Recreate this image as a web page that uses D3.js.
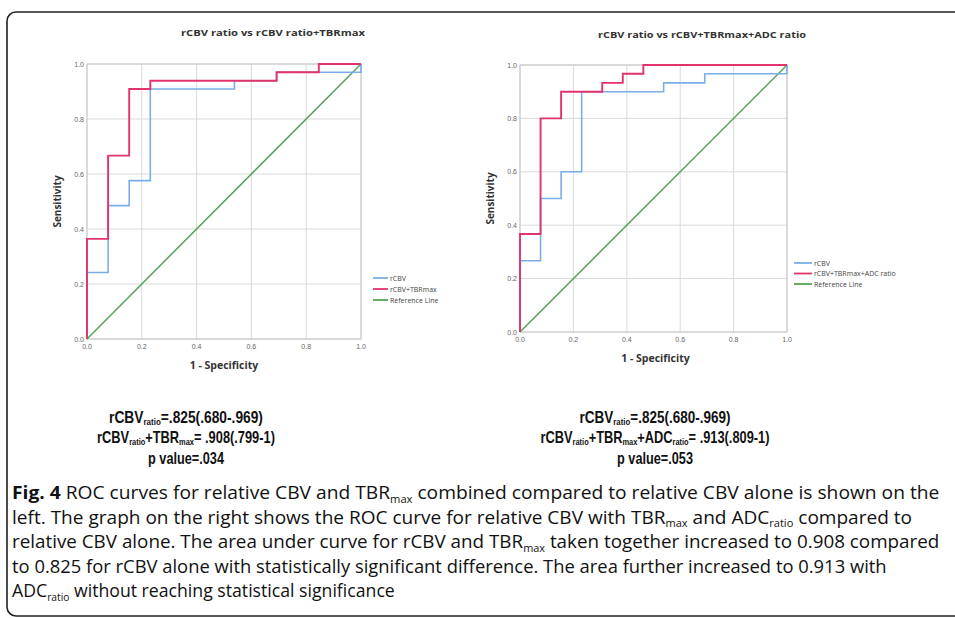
<!DOCTYPE html>
<html>
<head>
<meta charset="utf-8">
<script src="https://cdn.jsdelivr.net/npm/d3@7"></script>
<style>
  body { margin: 0; background: #fff; }
  svg { display: block; }
</style>
</head>
<body>
<svg id="fig" width="955" height="618"></svg>
<script>
// axis ticks shared by both panels
const ticks = [0, 0.2, 0.4, 0.6, 0.8, 1.0];

// left panel: rCBV vs rCBV+TBRmax (operating points, 1-specificity / sensitivity)
const leftBlueFpr = [0, 0, 0.077, 0.154, 0.231, 0.538, 0.692, 1];
const leftBlueTpr = [0, 0.242, 0.485, 0.576, 0.909, 0.939, 0.970, 1];
const leftRedFpr  = [0, 0, 0.077, 0.154, 0.231, 0.692, 0.846, 1];
const leftRedTpr  = [0, 0.364, 0.667, 0.909, 0.939, 0.970, 1, 1];

// right panel: rCBV vs rCBV+TBRmax+ADC ratio
const rightBlueFpr = [0, 0, 0.077, 0.154, 0.231, 0.538, 0.692, 1];
const rightBlueTpr = [0, 0.267, 0.5, 0.6, 0.9, 0.933, 0.967, 1];
const rightRedFpr  = [0, 0, 0.077, 0.154, 0.308, 0.385, 0.462, 1];
const rightRedTpr  = [0, 0.367, 0.8, 0.9, 0.933, 0.967, 1, 1];

const refLine = [0, 1];

const leftLegend  = ['rCBV', 'rCBV+TBRmax', 'Reference Line'];
const rightLegend = ['rCBV', 'rCBV+TBRmax+ADC ratio', 'Reference Line'];

const BLUE = '#7aaee8', RED = '#e2336b', GREEN = '#56a259';

const svg = d3.select('#fig');

// figure frame
svg.append('rect')
   .attr('x', 7).attr('y', 12)
   .attr('width', 1000).attr('height', 604)
   .attr('rx', 9)
   .attr('fill', 'none')
   .attr('stroke', '#222')
   .attr('stroke-width', 1.6);

function drawPanel(p){
  let x = d3.scaleLinear().domain([0, 1]).range([p.left, p.right]);
  let y = d3.scaleLinear().domain([0, 1]).range([p.bottom, p.top]);
  let g = svg.append('g');

  // grid
  ticks.forEach(function(t){
    g.append('line')
     .attr('x1', x(t)).attr('x2', x(t))
     .attr('y1', y(0)).attr('y2', y(1))
     .attr('stroke', '#d9d9d9').attr('stroke-width', 1);
    g.append('line')
     .attr('x1', x(0)).attr('x2', x(1))
     .attr('y1', y(t)).attr('y2', y(t))
     .attr('stroke', '#d9d9d9').attr('stroke-width', 1);
  });
  g.append('rect')
   .attr('x', x(0)).attr('y', y(1))
   .attr('width', x(1)-x(0)).attr('height', y(0)-y(1))
   .attr('fill', 'none').attr('stroke', '#c8c8c8');

  // tick labels
  g.selectAll('.xt').data(ticks).enter().append('text')
   .attr('x', function(d){ return x(d); })
   .attr('y', y(0) + 10)
   .attr('text-anchor', 'middle')
   .attr('font-family', 'Liberation Sans, Arial, sans-serif')
   .attr('font-size', '7px').attr('fill', '#666')
   .text(function(d){ return d.toFixed(1); });
  g.selectAll('.yt').data(ticks).enter().append('text')
   .attr('x', x(0) - 3)
   .attr('y', function(d){ return y(d) + 2.5; })
   .attr('text-anchor', 'end')
   .attr('font-family', 'Liberation Sans, Arial, sans-serif')
   .attr('font-size', '7px').attr('fill', '#666')
   .text(function(d){ return d.toFixed(1); });

  // curves
  let step = d3.line()
    .x(function(d){ return x(d[0]); })
    .y(function(d){ return y(d[1]); })
    .curve(d3.curveStepAfter);
  let straight = d3.line()
    .x(function(d){ return x(d[0]); })
    .y(function(d){ return y(d[1]); });

  g.append('path')
   .attr('d', straight(d3.zip(refLine, refLine)))
   .attr('fill', 'none').attr('stroke', GREEN).attr('stroke-width', 1.5);
  g.append('path')
   .attr('d', step(d3.zip(p.blueFpr, p.blueTpr)))
   .attr('fill', 'none').attr('stroke', BLUE).attr('stroke-width', 1.6);
  g.append('path')
   .attr('d', step(d3.zip(p.redFpr, p.redTpr)))
   .attr('fill', 'none').attr('stroke', RED).attr('stroke-width', 1.9);

  // titles
  g.append('text')
   .attr('x', p.titleX).attr('y', p.titleY)
   .attr('text-anchor', 'middle')
   .attr('font-family', 'Open Sans, sans-serif')
   .attr('font-weight', 'bold')
   .attr('font-size', '9px').attr('fill', '#333')
   .attr('textLength', p.titleW).attr('lengthAdjust', 'spacingAndGlyphs')
   .text(p.title);
  g.append('text')
   .attr('x', (x(0)+x(1))/2 + p.xlabDx).attr('y', y(0) + 30)
   .attr('text-anchor', 'middle')
   .attr('font-family', 'Open Sans, sans-serif')
   .attr('font-weight', 'bold')
   .attr('font-size', '10.5px').attr('fill', '#333')
   .text('1 - Specificity');
  g.append('text')
   .attr('transform', 'translate(' + p.ylabX + ',' + (y(0)+y(1))/2 + ') rotate(-90)')
   .attr('text-anchor', 'middle')
   .attr('font-family', 'Open Sans, sans-serif')
   .attr('font-weight', 'bold')
   .attr('font-size', '10px').attr('fill', '#333')
   .text('Sensitivity');

  // legend
  let colors = [BLUE, RED, GREEN];
  p.legend.forEach(function(name, i){
    let ly = p.legY + i*p.legGap;
    g.append('line')
     .attr('x1', p.legX).attr('x2', p.legX + p.legLen)
     .attr('y1', ly).attr('y2', ly)
     .attr('stroke', colors[i]).attr('stroke-width', 1.8);
    g.append('text')
     .attr('x', p.legX + p.legLen + 2).attr('y', ly + 2.5)
     .attr('font-family', 'Open Sans, sans-serif')
     .attr('font-size', '7px').attr('fill', '#444')
     .text(name);
  });
}

drawPanel({
  left: 87, right: 361, top: 64, bottom: 339,
  blueFpr: leftBlueFpr, blueTpr: leftBlueTpr,
  redFpr: leftRedFpr, redTpr: leftRedTpr,
  title: 'rCBV ratio vs rCBV ratio+TBRmax', titleX: 273, titleY: 36, titleW: 184,
  xlabDx: 0, ylabX: 61,
  legend: leftLegend, legX: 373, legY: 278, legGap: 11, legLen: 15
});
drawPanel({
  left: 520, right: 787, top: 65, bottom: 332,
  blueFpr: rightBlueFpr, blueTpr: rightBlueTpr,
  redFpr: rightRedFpr, redTpr: rightRedTpr,
  title: 'rCBV ratio vs rCBV+TBRmax+ADC ratio', titleX: 702, titleY: 38, titleW: 208,
  xlabDx: 2, ylabX: 494,
  legend: rightLegend, legX: 794, legY: 263, legGap: 10.5, legLen: 18
});

// AUC statistics, each line is a list of [text, isSubscript, isBold]
const leftStats = [
  [['rCBV', 0], ['ratio', 1], ['=.825(.680-.969)', 0]],
  [['rCBV', 0], ['ratio', 1], ['+TBR', 0], ['max', 1], ['= .908(.799-1)', 0]],
  [['p value=.034', 0]]
];
const rightStats = [
  [['rCBV', 0], ['ratio', 1], ['=.825(.680-.969)', 0]],
  [['rCBV', 0], ['ratio', 1], ['+TBR', 0], ['max', 1], ['+ADC', 0], ['ratio', 1], ['= .913(.809-1)', 0]],
  [['p value=.053', 0]]
];
const leftStatW  = [154, 178, 76];
const rightStatW = [151, 229, 76];

// one line of text with subscripts, squeezed horizontally to a target width
function richLine(parent, parts, x, y, size, anchor, weight, family, width, subShift){
  let t = parent.append('text')
    .attr('transform', 'translate(' + x + ',' + y + ')')
    .attr('text-anchor', anchor)
    .attr('font-family', family)
    .attr('font-weight', weight)
    .attr('font-size', size + 'px')
    .attr('fill', '#111');
  parts.forEach(function(p, i){
    let prev = i > 0 ? parts[i-1][1] : 0;
    let s = t.append('tspan')
      .attr('dy', (p[1] - prev) * size * subShift)
      .text(p[0]);
    if(p[1]) s.attr('font-size', (size*0.58) + 'px');
    if(p[2]) s.attr('font-weight', 'bold');
  });
  if(width){
    let w = t.node().getComputedTextLength();
    let sx = width / w;
    t.attr('transform', 'translate(' + x + ',' + y + ') scale(' + sx + ',1)');
  }
  return t;
}

const statY = [423, 443, 464];
leftStats.forEach(function(line, i){
  richLine(svg, line, 186, statY[i], 16.5, 'middle', 'bold', 'Liberation Sans, Arial, sans-serif', leftStatW[i], 0.1);
});
rightStats.forEach(function(line, i){
  richLine(svg, line, 655, statY[i], 16.5, 'middle', 'bold', 'Liberation Sans, Arial, sans-serif', rightStatW[i], 0.1);
});

// caption
const caption = [
  [['Fig. 4', 0, 1], [' ROC curves for relative CBV and TBR', 0], ['max', 1], [' combined compared to relative CBV alone is shown on the', 0]],
  [['left. The graph on the right shows the ROC curve for relative CBV with TBR', 0], ['max', 1], [' and ADC', 0], ['ratio', 1], [' compared to', 0]],
  [['relative CBV alone. The area under curve for rCBV and TBR', 0], ['max', 1], [' taken together increased to 0.908 compared', 0]],
  [['to 0.825 for rCBV alone with statistically significant difference. The area further increased to 0.913 with', 0]],
  [['ADC', 0], ['ratio', 1], [' without reaching statistical significance', 0]]
];
const captionW = [928, 901, 928, 875, 383];
caption.forEach(function(line, i){
  richLine(svg, line, 12, 499 + i*24.5, 18, 'start', 'normal', 'Open Sans, sans-serif', captionW[i], 0.2);
});
</script>
</body>
</html>
